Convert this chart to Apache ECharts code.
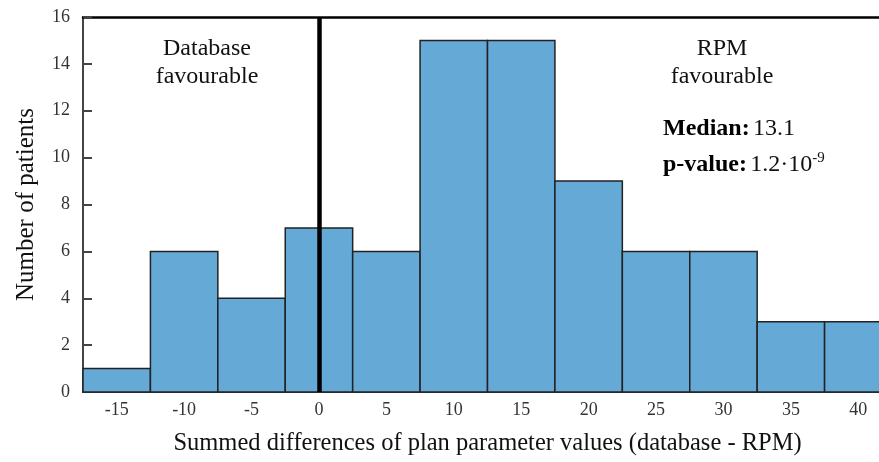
<!DOCTYPE html>
<html><head><meta charset="utf-8">
<script src="https://cdn.jsdelivr.net/npm/echarts@6/dist/echarts.min.js"></script>
<style>html,body{margin:0;padding:0;background:#fff}#c{width:879px;height:462px}</style>
</head><body><div id="c"></div>
<script>
const binCenters = ['-15','-10','-5','0','5','10','15','20','25','30','35','40'];
const counts = [1, 6, 4, 7, 6, 15, 15, 9, 6, 6, 3, 3];
const yTicks = {min: 0, max: 16, interval: 2};
const zeroLine = '0';
const leftNote = 'Database\nfavourable';
const rightNote = 'RPM\nfavourable';
const medianText = '13.1';
const pText = '1.2·10';
const pExp = '-9';
const xTitle = 'Summed differences of plan parameter values (database - RPM)';
const yTitle = 'Number of patients';

const FONT = '"Liberation Serif", "Times New Roman", serif';
const chart = echarts.init(document.getElementById('c'), null, {renderer: 'canvas'});
chart.setOption({
  animation: false,
  backgroundColor: '#fff',
  grid: {left: 83, top: 17, bottom: 70, width: 809, containLabel: false, outerBoundsMode: 'none'},
  xAxis: [{
    type: 'category', data: binCenters, boundaryGap: true,
    axisLine: {lineStyle: {color: '#444', width: 2}},
    axisTick: {inside: true, alignWithLabel: true, length: 9, lineStyle: {color: '#444', width: 2}},
    axisLabel: {fontFamily: FONT, fontSize: 18, color: '#333', margin: 9},
    name: xTitle, nameLocation: 'middle', nameGap: 39,
    nameTextStyle: {fontFamily: FONT, fontSize: 24.5, color: '#111'}
  }, {
    type: 'category', data: binCenters, position: 'top',
    axisLine: {show: true, lineStyle: {color: '#000', width: 2.5}},
    axisTick: {show: false}, axisLabel: {show: false}
  }],
  yAxis: {
    type: 'value', min: yTicks.min, max: yTicks.max, interval: yTicks.interval,
    splitLine: {show: false},
    axisLine: {show: true, lineStyle: {color: '#444', width: 2}},
    axisTick: {show: true, inside: true, length: 9, lineStyle: {color: '#444', width: 2}},
    axisLabel: {fontFamily: FONT, fontSize: 18, color: '#333', margin: 13},
    name: yTitle, nameLocation: 'middle', nameGap: 44, nameRotate: 90,
    nameTextStyle: {fontFamily: FONT, fontSize: 25, color: '#111'}
  },
  series: [{
    type: 'custom',
    data: counts.map((v, i) => [i, v]),
    encode: {x: 0, y: 1},
    renderItem: function (params, api) {
      const i = api.value(0), v = api.value(1);
      const w = api.size([1, 0])[0];
      const top = api.coord([i, v]);
      const base = api.coord([i, 0]);
      return {
        type: 'rect',
        shape: {x: top[0] - w / 2, y: top[1], width: w, height: base[1] - top[1]},
        style: {fill: '#65A9D7', stroke: '#222', lineWidth: 1.5}
      };
    },
    z: 2
  }, {
    type: 'line', data: [], silent: true,
    markLine: {
      symbol: 'none', silent: true, label: {show: false},
      lineStyle: {color: '#000', width: 4.5, type: 'solid'},
      data: [{xAxis: binCenters.indexOf(zeroLine)}]
    },
    z: 5
  }],
  graphic: [
    {type: 'text', x: 207, y: 35, style: {text: leftNote, font: '24px ' + FONT, fill: '#111', align: 'center', textAlign: 'center', lineHeight: 28}},
    {type: 'text', x: 722, y: 35, style: {text: rightNote, font: '24px ' + FONT, fill: '#111', align: 'center', textAlign: 'center', lineHeight: 28}},
    {type: 'text', x: 663, y: 117, style: {
      rich: {b: {fontFamily: FONT, fontSize: 24, fontWeight: 'bold', fill: '#000'}, n: {fontFamily: FONT, fontSize: 24, fill: '#111'}},
      text: '{b|Median:} {n|' + medianText + '}'}},
    {type: 'text', x: 663, y: 151, style: {
      rich: {b: {fontFamily: FONT, fontSize: 24, fontWeight: 'bold', fill: '#000'}, n: {fontFamily: FONT, fontSize: 24, fill: '#111'},
             s: {fontFamily: FONT, fontSize: 15, fill: '#111', verticalAlign: 'top', padding: [0, 0, 12, 0]}},
      text: '{b|p-value:} {n|' + pText + '}{s|' + pExp + '}'}}
  ]
});
</script></body></html>
